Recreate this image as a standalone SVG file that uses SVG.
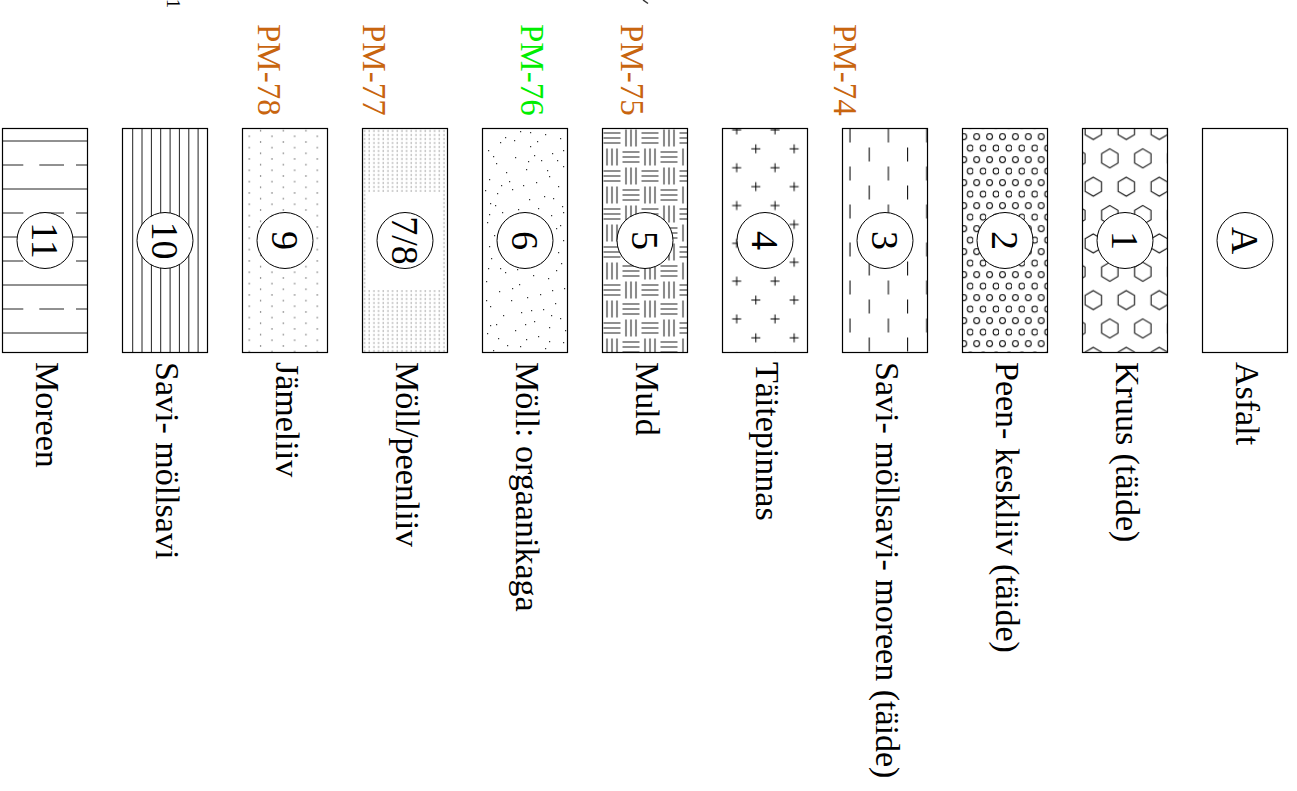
<svg xmlns="http://www.w3.org/2000/svg" width="1297" height="791" viewBox="0 0 1297 791">
<style>
.frame{fill:none;stroke:#000;stroke-width:1.2}
.badge{fill:#fff;stroke:#000;stroke-width:1}
.num{font-family:"Liberation Serif",serif;font-size:38px;text-anchor:middle;fill:#000}
.lbl{font-family:"Liberation Serif",serif;font-size:34px;fill:#000}
.pm{font-family:"Liberation Serif",serif;font-size:33px;fill:#c8650f}
.pmg{fill:#00ee00}
.ln{stroke:#222;stroke-width:1;fill:none}
.thin{stroke:#222;stroke-width:1.1;fill:none}
</style>
<defs>
<pattern id="pDots9" patternUnits="userSpaceOnUse" x="244.3" y="133.5" width="22.67" height="11.33">
<rect x="4.4" y="2.2" width="1.2" height="1.2" fill="#555"/>
<rect x="15.7" y="7.9" width="1.2" height="1.2" fill="#555"/>
</pattern>
<pattern id="pDots78" patternUnits="userSpaceOnUse" x="363.5" y="129.5" width="4.67" height="4">
<rect x="0.6" y="0.8" width="0.9" height="1.4" fill="#666"/>
</pattern>
<pattern id="pWeave" patternUnits="userSpaceOnUse" x="602.5" y="128.5" width="38" height="38">
<path class="thin" d="M1,4.5H18M1,9.5H18M1,14.5H18 M23.5,1V18M28.5,1V18M33.5,1V18 M4.5,20V37M9.5,20V37M14.5,20V37 M20,23.5H37M20,28.5H37M20,33.5H37"/>
</pattern>
<pattern id="pPlus" patternUnits="userSpaceOnUse" x="726.7" y="120" width="38.3" height="37.8">
<path stroke="#000" stroke-width="1" fill="none" d="M5.5,10H14.5M10,5.5V14.5 M24.65,28.9H33.65M29.15,24.4V33.4"/>
</pattern>
<pattern id="pDash" patternUnits="userSpaceOnUse" x="846" y="126.5" width="38.4" height="38">
<path stroke="#111" stroke-width="1.1" fill="none" d="M4,2V16 M23.2,21V35"/>
</pattern>
<pattern id="pRings" patternUnits="userSpaceOnUse" x="973.2" y="133.2" width="12.9" height="23">
<circle cx="3.5" cy="3.5" r="2.9" fill="none" stroke="#000" stroke-width="1"/>
<circle cx="9.95" cy="15" r="2.9" fill="none" stroke="#000" stroke-width="1"/>
</pattern>
<pattern id="pHex" patternUnits="userSpaceOnUse" x="1076.8" y="101.65" width="33" height="56.7">
<g fill="none" stroke="#111" stroke-width="1.1">
<path d="M0,-9.5L8.2,-4.75L8.2,4.75L0,9.5L-8.2,4.75L-8.2,-4.75Z" transform="translate(16.5,28.35)"/>
<path d="M0,-9.5L8.2,-4.75L8.2,4.75L0,9.5L-8.2,4.75L-8.2,-4.75Z"/>
<path d="M0,-9.5L8.2,-4.75L8.2,4.75L0,9.5L-8.2,4.75L-8.2,-4.75Z" transform="translate(33,0)"/>
<path d="M0,-9.5L8.2,-4.75L8.2,4.75L0,9.5L-8.2,4.75L-8.2,-4.75Z" transform="translate(0,56.7)"/>
<path d="M0,-9.5L8.2,-4.75L8.2,4.75L0,9.5L-8.2,4.75L-8.2,-4.75Z" transform="translate(33,56.7)"/>
</g>
</pattern>
</defs>
<rect width="1297" height="791" fill="#fff"/>

<g id="top-marks">
<text class="lbl" style="font-size:19px" transform="translate(167,-1.3) rotate(90)">1</text>
<path d="M643,0L648,3.5" stroke="#333" stroke-width="1.5"/>
</g>

<g id="pm-labels">
<text class="pm" transform="translate(257.5,24) rotate(90)">PM-78</text>
<text class="pm" transform="translate(362.5,24) rotate(90)">PM-77</text>
<text class="pm pmg" transform="translate(521,24) rotate(90)">PM-76</text>
<text class="pm" transform="translate(621,24) rotate(90)">PM-75</text>
<text class="pm" transform="translate(833.5,24) rotate(90)">PM-74</text>
</g>

<g id="col-11">
<path class="ln" d="M2.5,141H87.5M2.5,189H87.5M2.5,237H87.5M2.5,285H87.5M2.5,333H87.5"/>
<path class="ln" d="M2.5,165H23.3M39.3,165H64M76,165H87.5 M2.5,213H23.3M39.3,213H64M76,213H87.5 M2.5,261H23.3M39.3,261H64M76,261H87.5 M2.5,309H23.3M39.3,309H64M76,309H87.5"/>
<rect class="frame" x="2.5" y="128.5" width="85" height="224"/>
<circle class="badge" cx="45" cy="240.5" r="28"/>
<text class="num" transform="translate(32.2,240.5) rotate(90)">11</text>
<text class="lbl" transform="translate(36,362) rotate(90)">Moreen</text>
</g>

<g id="col-10">
<path class="ln" d="M132.7,128.5V352.5M142,128.5V352.5M151.4,128.5V352.5M160.7,128.5V352.5M170.1,128.5V352.5M179.4,128.5V352.5M188.8,128.5V352.5M198.1,128.5V352.5"/>
<rect class="frame" x="122.5" y="128.5" width="85" height="224"/>
<circle class="badge" cx="165" cy="240.5" r="28"/>
<text class="num" transform="translate(152.2,240.5) rotate(90)">10</text>
<text class="lbl" transform="translate(156,362) rotate(90)">Savi- möllsavi</text>
</g>

<g id="col-9">
<rect x="242.5" y="128.5" width="85" height="224" fill="url(#pDots9)"/>
<rect class="frame" x="242.5" y="128.5" width="85" height="224"/>
<circle class="badge" cx="285" cy="240.5" r="28"/>
<text class="num" transform="translate(272.2,240.5) rotate(90)">9</text>
<text class="lbl" transform="translate(276,362) rotate(90)">Jämeliiv</text>
</g>

<g id="col-7-8">
<rect x="362.5" y="128.5" width="85" height="224" fill="url(#pDots78)"/>
<rect x="366" y="192" width="76" height="98" fill="#fff"/>
<rect class="frame" x="362.5" y="128.5" width="85" height="224"/>
<circle class="badge" cx="405" cy="240.5" r="28"/>
<text class="num" transform="translate(392.2,240.5) rotate(90)">7/8</text>
<text class="lbl" transform="translate(396,362) rotate(90)">Möll/peenliiv</text>
</g>

<g id="col-6">
<path fill="#333" d="M520,131h1.2v1.2h-1.2z M545,134h1.2v1.2h-1.2z M560,138h1.2v1.2h-1.2z M500,142h1.2v1.2h-1.2z M530,146h1.2v1.2h-1.2z M488,150h1.2v1.2h-1.2z M552,153h1.2v1.2h-1.2z M515,157h1.2v1.2h-1.2z M541,160h1.2v1.2h-1.2z M496,163h1.2v1.2h-1.2z M563,166h1.2v1.2h-1.2z M526,169h1.2v1.2h-1.2z M506,172h1.2v1.2h-1.2z M549,176h1.2v1.2h-1.2z M489,179h1.2v1.2h-1.2z M536,182h1.2v1.2h-1.2z M558,186h1.2v1.2h-1.2z M512,189h1.2v1.2h-1.2z M497,193h1.2v1.2h-1.2z M544,196h1.2v1.2h-1.2z M529,199h1.2v1.2h-1.2z M490,203h1.2v1.2h-1.2z M562,206h1.2v1.2h-1.2z M518,209h1.2v1.2h-1.2z M502,212h1.2v1.2h-1.2z M551,215h1.2v1.2h-1.2z M535,218h1.2v1.2h-1.2z M487,222h1.2v1.2h-1.2z M509,225h1.2v1.2h-1.2z M556,228h1.2v1.2h-1.2z M540,231h1.2v1.2h-1.2z M494,235h1.2v1.2h-1.2z M563,240h1.2v1.2h-1.2z M489,246h1.2v1.2h-1.2z M558,252h1.2v1.2h-1.2z M491,258h1.2v1.2h-1.2z M561,263h1.2v1.2h-1.2z M505,272h1.2v1.2h-1.2z M533,275h1.2v1.2h-1.2z M548,278h1.2v1.2h-1.2z M486,281h1.2v1.2h-1.2z M519,284h1.2v1.2h-1.2z M564,288h1.2v1.2h-1.2z M499,291h1.2v1.2h-1.2z M540,294h1.2v1.2h-1.2z M527,297h1.2v1.2h-1.2z M511,300h1.2v1.2h-1.2z M555,303h1.2v1.2h-1.2z M490,306h1.2v1.2h-1.2z M543,309h1.2v1.2h-1.2z M521,312h1.2v1.2h-1.2z M503,315h1.2v1.2h-1.2z M560,318h1.2v1.2h-1.2z M534,321h1.2v1.2h-1.2z M496,324h1.2v1.2h-1.2z M549,327h1.2v1.2h-1.2z M515,330h1.2v1.2h-1.2z M487,333h1.2v1.2h-1.2z M538,336h1.2v1.2h-1.2z M526,339h1.2v1.2h-1.2z M563,342h1.2v1.2h-1.2z M507,345h1.2v1.2h-1.2z M545,348h1.2v1.2h-1.2z M493,350h1.2v1.2h-1.2z M530,132h1.2v1.2h-1.2z M505,137h1.2v1.2h-1.2z M537,141h1.2v1.2h-1.2z M563,150h1.2v1.2h-1.2z M493,156h1.2v1.2h-1.2z M528,161h1.2v1.2h-1.2z M509,181h1.2v1.2h-1.2z M523,185h1.2v1.2h-1.2z M485,190h1.2v1.2h-1.2z M553,198h1.2v1.2h-1.2z M495,205h1.2v1.2h-1.2z M563,212h1.2v1.2h-1.2z M510,216h1.2v1.2h-1.2z M549,341h1.2v1.2h-1.2z M520,346h1.2v1.2h-1.2z M565,330h1.2v1.2h-1.2z M498,338h1.2v1.2h-1.2z M531,310h1.2v1.2h-1.2z M552,290h1.2v1.2h-1.2z M486,300h1.2v1.2h-1.2z M541,262h1.2v1.2h-1.2z M556,270h1.2v1.2h-1.2z M512,288h1.2v1.2h-1.2z M525,324h1.2v1.2h-1.2z M500,268h1.2v1.2h-1.2z M488,268h1.2v1.2h-1.2z M560,225h1.2v1.2h-1.2z M489,214h1.2v1.2h-1.2z M547,170h1.2v1.2h-1.2z M534,155h1.2v1.2h-1.2z M514,140h1.2v1.2h-1.2z M557,160h1.2v1.2h-1.2z M501,185h1.2v1.2h-1.2z M538,208h1.2v1.2h-1.2z M490,325h1.2v1.2h-1.2z M551,315h1.2v1.2h-1.2z M517,269h1.2v1.2h-1.2z"/>
<rect class="frame" x="482.5" y="128.5" width="85" height="224"/>
<circle class="badge" cx="525" cy="240.5" r="28"/>
<text class="num" transform="translate(512.2,240.5) rotate(90)">6</text>
<text class="lbl" transform="translate(516,362) rotate(90)">Möll: orgaanikaga</text>
</g>

<g id="col-5">
<rect x="602.5" y="128.5" width="85" height="224" fill="url(#pWeave)"/>
<rect class="frame" x="602.5" y="128.5" width="85" height="224"/>
<circle class="badge" cx="645" cy="240.5" r="28"/>
<text class="num" transform="translate(632.2,240.5) rotate(90)">5</text>
<text class="lbl" transform="translate(636,362) rotate(90)">Muld</text>
</g>

<g id="col-4">
<rect x="722.5" y="128.5" width="85" height="224" fill="url(#pPlus)"/>
<rect class="frame" x="722.5" y="128.5" width="85" height="224"/>
<circle class="badge" cx="765" cy="240.5" r="28"/>
<text class="num" transform="translate(752.2,240.5) rotate(90)">4</text>
<text class="lbl" transform="translate(756,362) rotate(90)">Täitepinnas</text>
</g>

<g id="col-3">
<rect x="842.5" y="128.5" width="85" height="224" fill="url(#pDash)"/>
<rect class="frame" x="842.5" y="128.5" width="85" height="224"/>
<circle class="badge" cx="885" cy="240.5" r="28"/>
<text class="num" transform="translate(872.2,240.5) rotate(90)">3</text>
<text class="lbl" transform="translate(876,362) rotate(90)">Savi- möllsavi- moreen (täide)</text>
</g>

<g id="col-2">
<rect x="962.5" y="128.5" width="85" height="224" fill="url(#pRings)"/>
<rect class="frame" x="962.5" y="128.5" width="85" height="224"/>
<circle class="badge" cx="1005" cy="240.5" r="28"/>
<text class="num" transform="translate(992.2,240.5) rotate(90)">2</text>
<text class="lbl" transform="translate(996,362) rotate(90)">Peen- keskliiv (täide)</text>
</g>

<g id="col-1">
<rect x="1082.5" y="128.5" width="85" height="224" fill="url(#pHex)"/>
<rect class="frame" x="1082.5" y="128.5" width="85" height="224"/>
<circle class="badge" cx="1125" cy="240.5" r="28"/>
<text class="num" transform="translate(1112.2,240.5) rotate(90)">1</text>
<text class="lbl" transform="translate(1116,362) rotate(90)">Kruus (täide)</text>
</g>

<g id="col-A">
<rect class="frame" x="1202.5" y="128.5" width="85" height="224"/>
<circle class="badge" cx="1245" cy="240.5" r="28"/>
<text class="num" transform="translate(1232.2,240.5) rotate(90)">A</text>
<text class="lbl" transform="translate(1236,362) rotate(90)">Asfalt</text>
</g>
</svg>
